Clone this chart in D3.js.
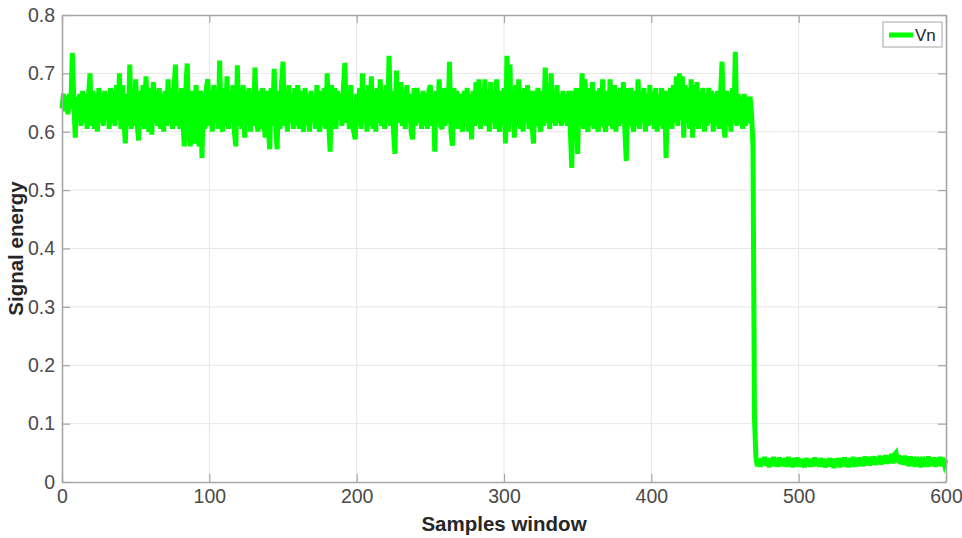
<!DOCTYPE html>
<html>
<head>
<meta charset="utf-8">
<script src="https://cdn.jsdelivr.net/npm/d3@7/dist/d3.min.js"></script>
<style>
  html, body { margin: 0; padding: 0; background: #ffffff; }
  svg { display: block; font-family: "Liberation Sans", Arial, Helvetica, sans-serif; }
</style>
</head>
<body>
<svg id="chart" width="962" height="538"></svg>
<script>
// Signal energy per samples window (sample index = array position)
const energy = [
  0.64, 0.665, 0.635, 0.66, 0.63, 0.665, 0.64, 0.735, 0.655, 0.59,
  0.66, 0.62, 0.665, 0.61, 0.67, 0.615, 0.665, 0.605, 0.66, 0.70,
  0.61, 0.67, 0.605, 0.665, 0.60, 0.675, 0.615, 0.665, 0.61, 0.67,
  0.62, 0.665, 0.605, 0.675, 0.615, 0.67, 0.61, 0.68, 0.62, 0.70,
  0.605, 0.68, 0.62, 0.58, 0.665, 0.61, 0.715, 0.605, 0.67, 0.61,
  0.69, 0.615, 0.585, 0.67, 0.61, 0.68, 0.605, 0.695, 0.62, 0.60,
  0.675, 0.595, 0.685, 0.615, 0.67, 0.61, 0.675, 0.605, 0.665, 0.60,
  0.67, 0.61, 0.69, 0.615, 0.675, 0.605, 0.67, 0.715, 0.61, 0.665,
  0.605, 0.675, 0.62, 0.575, 0.67, 0.717, 0.60, 0.575, 0.67, 0.61,
  0.58, 0.68, 0.615, 0.575, 0.67, 0.555, 0.665, 0.605, 0.675, 0.69,
  0.61, 0.67, 0.60, 0.68, 0.615, 0.67, 0.605, 0.722, 0.615, 0.60,
  0.675, 0.61, 0.695, 0.605, 0.67, 0.615, 0.68, 0.60, 0.575, 0.714,
  0.61, 0.675, 0.605, 0.68, 0.59, 0.67, 0.61, 0.675, 0.60, 0.665,
  0.61, 0.71, 0.62, 0.60, 0.67, 0.605, 0.675, 0.615, 0.59, 0.67,
  0.605, 0.57, 0.675, 0.61, 0.708, 0.615, 0.57, 0.67, 0.605, 0.68,
  0.72, 0.61, 0.67, 0.60, 0.68, 0.615, 0.665, 0.605, 0.675, 0.61,
  0.68, 0.605, 0.67, 0.615, 0.60, 0.675, 0.61, 0.665, 0.60, 0.67,
  0.615, 0.665, 0.605, 0.68, 0.61, 0.60, 0.67, 0.61, 0.675, 0.605,
  0.70, 0.615, 0.566, 0.68, 0.61, 0.675, 0.605, 0.67, 0.62, 0.665,
  0.61, 0.675, 0.718, 0.615, 0.67, 0.605, 0.68, 0.61, 0.60, 0.587,
  0.665, 0.61, 0.675, 0.605, 0.70, 0.615, 0.67, 0.60, 0.68, 0.61,
  0.695, 0.605, 0.67, 0.60, 0.675, 0.615, 0.69, 0.61, 0.67, 0.605,
  0.68, 0.615, 0.73, 0.61, 0.67, 0.60, 0.562, 0.705, 0.615, 0.665,
  0.685, 0.61, 0.67, 0.605, 0.68, 0.615, 0.665, 0.60, 0.587, 0.675,
  0.61, 0.675, 0.615, 0.665, 0.605, 0.67, 0.61, 0.665, 0.605, 0.67,
  0.68, 0.61, 0.665, 0.566, 0.67, 0.615, 0.69, 0.61, 0.605, 0.675,
  0.61, 0.675, 0.615, 0.72, 0.60, 0.576, 0.675, 0.61, 0.67, 0.605,
  0.665, 0.615, 0.60, 0.67, 0.61, 0.675, 0.60, 0.665, 0.587, 0.67,
  0.61, 0.685, 0.615, 0.69, 0.605, 0.675, 0.615, 0.69, 0.61, 0.67,
  0.60, 0.685, 0.615, 0.67, 0.605, 0.69, 0.615, 0.60, 0.67, 0.61,
  0.675, 0.58, 0.73, 0.60, 0.715, 0.615, 0.67, 0.59, 0.68, 0.61,
  0.69, 0.605, 0.67, 0.60, 0.675, 0.615, 0.68, 0.605, 0.67, 0.61,
  0.58, 0.67, 0.61, 0.675, 0.615, 0.60, 0.67, 0.61, 0.71, 0.615,
  0.68, 0.605, 0.70, 0.615, 0.67, 0.61, 0.68, 0.615, 0.665, 0.61,
  0.67, 0.615, 0.665, 0.61, 0.67, 0.605, 0.538, 0.67, 0.61, 0.675,
  0.562, 0.675, 0.61, 0.70, 0.605, 0.69, 0.615, 0.60, 0.675, 0.61,
  0.685, 0.605, 0.67, 0.615, 0.60, 0.675, 0.61, 0.69, 0.615, 0.60,
  0.67, 0.61, 0.69, 0.615, 0.605, 0.68, 0.60, 0.67, 0.61, 0.675,
  0.615, 0.685, 0.605, 0.55, 0.675, 0.61, 0.675, 0.615, 0.60, 0.67,
  0.61, 0.69, 0.605, 0.67, 0.615, 0.675, 0.60, 0.665, 0.61, 0.68,
  0.615, 0.67, 0.605, 0.675, 0.60, 0.665, 0.61, 0.675, 0.605, 0.67,
  0.555, 0.67, 0.61, 0.675, 0.605, 0.68, 0.615, 0.695, 0.61, 0.70,
  0.62, 0.695, 0.59, 0.68, 0.615, 0.675, 0.605, 0.69, 0.59, 0.68,
  0.61, 0.685, 0.605, 0.67, 0.615, 0.675, 0.60, 0.665, 0.61, 0.675,
  0.615, 0.67, 0.60, 0.665, 0.61, 0.67, 0.605, 0.665, 0.72, 0.615,
  0.59, 0.67, 0.61, 0.665, 0.60, 0.675, 0.615, 0.737, 0.61, 0.665,
  0.615, 0.66, 0.605, 0.665, 0.61, 0.66, 0.615, 0.66, 0.63, 0.575,
  0.11,
  0.042, 0.027, 0.04, 0.026, 0.041, 0.03, 0.043, 0.028, 0.039, 0.025,
  0.041, 0.028, 0.043, 0.027, 0.04, 0.026, 0.042, 0.029, 0.04, 0.027,
  0.041, 0.026, 0.043, 0.028, 0.039, 0.025, 0.041, 0.027, 0.042, 0.026,
  0.04, 0.027, 0.038, 0.025, 0.041, 0.028, 0.039, 0.026, 0.04, 0.027,
  0.042, 0.028, 0.039, 0.026, 0.041, 0.027, 0.04, 0.025, 0.038, 0.027,
  0.041, 0.026, 0.04, 0.024, 0.039, 0.027, 0.041, 0.025, 0.04, 0.028,
  0.042, 0.026, 0.039, 0.025, 0.041, 0.028, 0.043, 0.026, 0.04, 0.027,
  0.042, 0.028, 0.041, 0.027, 0.044, 0.029, 0.042, 0.028, 0.043, 0.03,
  0.044, 0.029, 0.042, 0.031, 0.045, 0.03, 0.043, 0.032, 0.046, 0.031,
  0.045, 0.033, 0.048, 0.032, 0.047, 0.05, 0.034, 0.046, 0.031, 0.044,
  0.03, 0.045, 0.029, 0.043, 0.027, 0.044, 0.028, 0.042, 0.026, 0.043,
  0.028, 0.041, 0.025, 0.043, 0.027, 0.04, 0.026, 0.044, 0.027, 0.041,
  0.028, 0.042, 0.026, 0.04, 0.029, 0.043, 0.027, 0.041, 0.03, 0.038
];

const xTicks = [0, 100, 200, 300, 400, 500, 600];
const yTicks = [0, 0.1, 0.2, 0.3, 0.4, 0.5, 0.6, 0.7, 0.8];
const seriesName = "Vn";
const xLabel = "Samples window";
const yLabel = "Signal energy";

const plotLeft = 62, plotRight = 946, plotTop = 15, plotBottom = 482;
const x = d3.scaleLinear().domain([0, 600]).range([plotLeft, plotRight]);
const y = d3.scaleLinear().domain([0, 0.8]).range([plotBottom, plotTop]);

const svg = d3.select("#chart");
const axisColor = "#a6a6a6";
const tickTextColor = "#4a4a4a";

// grid
const grid = svg.append("g").attr("stroke", "#e6e6e6").attr("stroke-width", 1);
grid.selectAll(".gx").data(xTicks.slice(1, -1)).join("line")
  .attr("x1", d => x(d)).attr("x2", d => x(d))
  .attr("y1", plotTop).attr("y2", plotBottom);
grid.selectAll(".gy").data(yTicks.slice(1, -1)).join("line")
  .attr("x1", plotLeft).attr("x2", plotRight)
  .attr("y1", d => y(d)).attr("y2", d => y(d));

// signal line
const line = d3.line()
  .x((d, i) => x(i))
  .y(d => y(d));
svg.append("path")
  .datum(energy)
  .attr("d", line)
  .attr("fill", "none")
  .attr("stroke", "#00ff00")
  .attr("stroke-width", 5)
  .attr("stroke-linejoin", "miter");

// axes with inward ticks
function styleAxis(g, showText) {
  g.attr("font-family", null).attr("font-size", null);
  g.select(".domain").attr("stroke", axisColor).attr("stroke-width", 1.6);
  g.selectAll(".tick line").attr("stroke", axisColor).attr("stroke-width", 1.2);
  g.selectAll(".tick text")
    .attr("fill", tickTextColor)
    .style("font-size", "19.5px")
    .style("display", showText ? null : "none");
}

svg.append("g")
  .attr("transform", `translate(0,${plotBottom})`)
  .call(d3.axisBottom(x).tickValues(xTicks).tickSizeInner(-8).tickSizeOuter(0).tickPadding(7).tickFormat(d3.format("d")))
  .call(g => styleAxis(g, true));
svg.append("g")
  .attr("transform", `translate(0,${plotTop})`)
  .call(d3.axisTop(x).tickValues(xTicks).tickSizeInner(-8).tickSizeOuter(0))
  .call(g => styleAxis(g, false));
svg.append("g")
  .attr("transform", `translate(${plotLeft},0)`)
  .call(d3.axisLeft(y).tickValues(yTicks).tickSizeInner(-8).tickSizeOuter(0).tickPadding(7).tickFormat(d => d === 0 ? "0" : d3.format(".1f")(d)))
  .call(g => styleAxis(g, true));
svg.append("g")
  .attr("transform", `translate(${plotRight},0)`)
  .call(d3.axisRight(y).tickValues(yTicks).tickSizeInner(-8).tickSizeOuter(0))
  .call(g => styleAxis(g, false));

// axis titles
svg.append("text")
  .attr("x", (plotLeft + plotRight) / 2).attr("y", 531)
  .attr("text-anchor", "middle")
  .attr("fill", "#262626")
  .style("font-size", "20.5px").style("font-weight", "bold")
  .text(xLabel);
svg.append("text")
  .attr("transform", `translate(23,${(plotTop + plotBottom) / 2}) rotate(-90)`)
  .attr("text-anchor", "middle")
  .attr("fill", "#262626")
  .style("font-size", "20.5px").style("font-weight", "bold")
  .text(yLabel);

// legend
const legend = svg.append("g");
legend.append("rect")
  .attr("x", 883).attr("y", 22).attr("width", 59).attr("height", 25)
  .attr("fill", "#ffffff").attr("stroke", "#a6a6a6").attr("stroke-width", 1);
legend.append("line")
  .attr("x1", 889).attr("x2", 913).attr("y1", 35).attr("y2", 35)
  .attr("stroke", "#00ff00").attr("stroke-width", 5);
legend.append("text")
  .attr("x", 915).attr("y", 41)
  .attr("fill", "#262626")
  .style("font-size", "17px")
  .text(seriesName);
</script>
</body>
</html>
